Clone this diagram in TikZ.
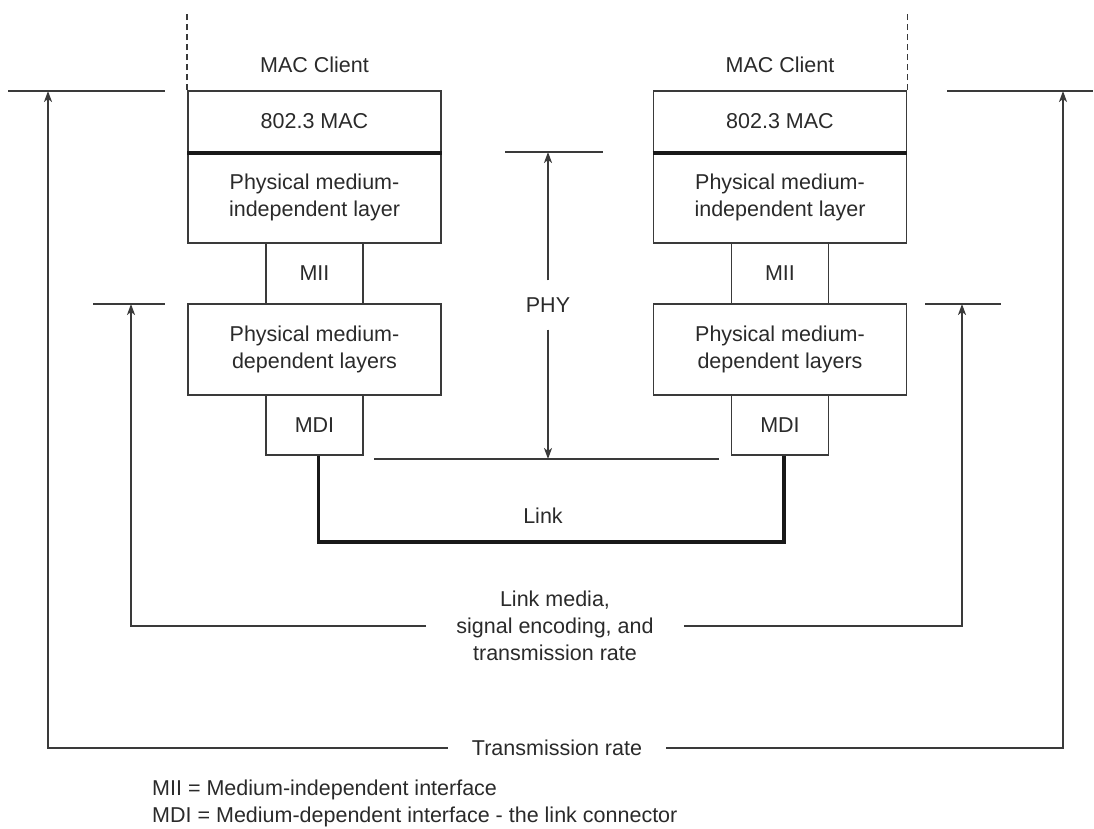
\documentclass[tikz,border=0pt]{standalone}
\usepackage{fontspec}
\setmainfont{Liberation Sans}
\usetikzlibrary{arrows.meta,calc}
\definecolor{ink}{HTML}{2A2A2A}
\definecolor{rule}{HTML}{3A3A3A}

\begin{document}
\begin{tikzpicture}[x=1pt,y=-1pt,
  font=\fontsize{21.5}{27}\selectfont,
  every node/.style={text=ink},
  layerbox/.style={draw=rule, line width=1.8pt, minimum width=253pt, inner sep=0pt, align=center},
  ifbox/.style={draw=rule, line width=1.8pt, minimum width=97pt, minimum height=61pt, inner sep=0pt},
  thinline/.style={draw=rule, line width=1.7pt},
  heavyline/.style={draw=black!90, line width=3.4pt},
  arrowline/.style={draw=rule, line width=1.7pt, -{Stealth[length=11pt,width=8pt,inset=3pt]}},
  clientside/.style={draw=rule, line width=1.6pt, dash pattern=on 6pt off 4pt}
]
\useasboundingbox (0,0) rectangle (1094,829);

% ---------- left station ----------
\node (clientL) at (314.5,65) {MAC Client};
\node[layerbox, minimum height=61pt] (macL) at (314.5,121.5) {802.3 MAC};
\node[layerbox, minimum height=91pt] (pmiL) at (314.5,197.5) {Physical medium-\\independent layer};
\node[ifbox] (miiL) at (314.5,273.5) {MII};
\node[layerbox, minimum height=91pt] (pmdL) at (314.5,349.5) {Physical medium-\\dependent layers};
\node[ifbox, minimum height=60pt] (mdiL) at (314.5,425) {MDI};
\draw[heavyline] (macL.south west) -- (macL.south east);
\draw[clientside] (macL.north west) -- ++(0,-78);

% ---------- right station ----------
\node (clientR) at (780,65) {MAC Client};
\node[layerbox, minimum height=61pt] (macR) at (780,121.5) {802.3 MAC};
\node[layerbox, minimum height=91pt] (pmiR) at (780,197.5) {Physical medium-\\independent layer};
\node[ifbox] (miiR) at (780,273.5) {MII};
\node[layerbox, minimum height=91pt] (pmdR) at (780,349.5) {Physical medium-\\dependent layers};
\node[ifbox, minimum height=60pt] (mdiR) at (780,425) {MDI};
\draw[heavyline] (macR.south west) -- (macR.south east);
\draw[clientside] (macR.north east) -- ++(0,-78);

% ---------- link between the two MDIs ----------
\draw[heavyline] ([xshift=4pt]mdiL.south) -- ++(0,86) -| ([xshift=4pt]mdiR.south);
\node (link) at (543,516) {Link};

% ---------- PHY extent ----------
\draw[thinline] (505,152) -- (603,152);
\draw[thinline] (374,459) -- (719,459);
\coordinate (phyTop) at (548,152);
\coordinate (phyBot) at (548,459);
\node[inner ysep=17pt] (phy) at (548,305) {PHY};
\draw[arrowline] (phy.north) -- (phyTop);
\draw[arrowline] (phy.south) -- (phyBot);

% ---------- link media, encoding and rate ----------
\draw[thinline] (93,304) -- (165,304);
\draw[thinline] (925,304) -- (1001,304);
\coordinate (medL) at (131,626);
\coordinate (medLtop) at (131,304);
\coordinate (medR) at (962,626);
\coordinate (medRtop) at (962,304);
\node[align=center, inner xsep=30pt] (media) at (555,626) {Link media,\\signal encoding, and\\transmission rate};
\draw[arrowline] (media.west) -- (medL) -- (medLtop);
\draw[arrowline] (media.east) -- (medR) -- (medRtop);

% ---------- transmission rate ----------
\draw[thinline] (8,91) -- (165,91);
\draw[thinline] (947,91) -- (1093,91);
\coordinate (trL) at (48,748);
\coordinate (trLtop) at (48,91);
\coordinate (trR) at (1063,748);
\coordinate (trRtop) at (1063,91);
\node[inner xsep=24pt] (trate) at (557,748) {Transmission rate};
\draw[arrowline] (trate.west) -- (trL) -- (trLtop);
\draw[arrowline] (trate.east) -- (trR) -- (trRtop);

% ---------- legend ----------
\node[anchor=west, inner sep=0pt] (legMII) at (152,790) {MII = Medium-independent interface};
\node[anchor=west, inner sep=0pt] (legMDI) at (152,817) {MDI = Medium-dependent interface - the link connector};
\end{tikzpicture}
\end{document}
